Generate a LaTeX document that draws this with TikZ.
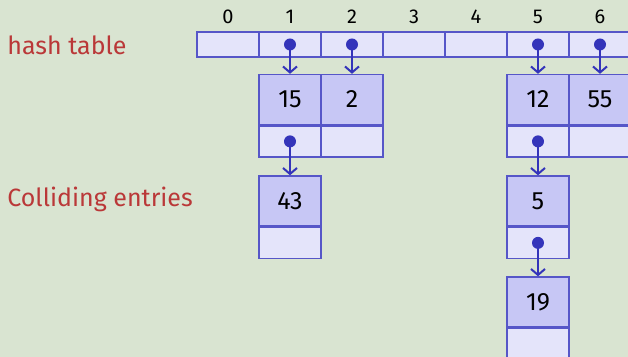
\documentclass[tikz,border=0pt]{standalone}
\usepackage{fontspec}
\setmainfont{Fira Sans}
\usepackage{xcolor}
\usetikzlibrary{arrows.meta,positioning}
\definecolor{bgc}{RGB}{217,228,209}
\definecolor{lightc}{RGB}{228,228,250}
\definecolor{darkc}{RGB}{199,199,245}
\definecolor{edgec}{RGB}{86,86,200}
\definecolor{dotc}{RGB}{52,52,186}
\definecolor{redc}{RGB}{186,56,56}
\tikzset{
  cell/.style={draw=edgec,fill=lightc,line width=0.7pt,minimum width=31pt,minimum height=12.5pt,inner sep=0pt},
  valbox/.style={cell,fill=darkc,minimum height=25pt,font=\fontsize{12.5}{14}\selectfont},
  ptrbox/.style={cell,minimum height=15.5pt},
  idx/.style={font=\fontsize{10}{12}\selectfont,inner sep=0pt},
  lbl/.style={anchor=west,inner sep=0pt,text=redc,font=\fontsize{12.5}{15}\selectfont},
  ptr/.style={draw=dotc,line width=1pt,-{Straight Barb[length=3pt,width=7pt]}}
}
\begin{document}
\begin{tikzpicture}[x=0.5pt,y=-0.5pt]
  \fill[bgc] (0,0) rectangle (628,357);
  \useasboundingbox (0,0) rectangle (628,357);
  \clip (0,0) rectangle (628,357);
    \def\entry(#1,#2)#3#4{
      \node [valbox] (v#4) at (#1,#2) {#3};
      \node [ptrbox, below=0pt of v#4] (p#4) {};
      }

  % table slots and their numbers
  \foreach \i in {0,...,6}{
    \node [cell] (t\i) at (228+62*\i,44.5) {};
    \node [idx] (n\i) at (228+62*\i,17) {\i};
  }
  \node [lbl] (ht) at (7,45) {hash table};
  \node [lbl] (ce) at (7,199) {Colliding entries};

  % entries
  \entry(290,99.5){15}{15}
  \entry(352,99.5){2}{2}
  \entry(538,99.5){12}{12}
  \entry(600,99.5){55}{55}
  \entry(290,201){43}{43}
  \entry(538,201){5}{5}
  \entry(538,302){19}{19}

  % pointers
  \foreach \a/\b in {t1/v15,t2/v2,t5/v12,t6/v55,p15/v43,p12/v5,p5/v19}{
    \fill [dotc] (\a.center) circle (6);
    \draw [ptr] (\a.center) -- (\b.north);
  }
\end{tikzpicture}
\end{document}
